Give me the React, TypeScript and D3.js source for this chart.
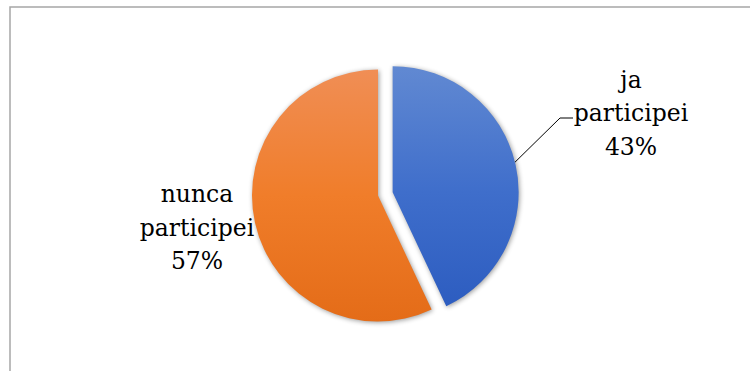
import React from "react";
import * as d3 from "d3";

const categories = ["ja participei", "nunca participei"];
const labelLines = [["ja", "participei"], ["nunca", "participei"]];
const values = [43, 57];
const percentLabels = ["43%", "57%"];

const W = 750;
const H = 371;
const CX = 378;
const CY = 195.5;
const R = 126;
const EXPLODE = 15;
const FS = 23.5;
const LH = 33.5;
const FONT = "DejaVu Serif";

export default function App() {
  const pie = d3.pie<number>().sort(null).startAngle(0).endAngle(2 * Math.PI);
  const arcs = pie(values);
  const arc = d3.arc<d3.PieArcDatum<number>>().innerRadius(0).outerRadius(R);

  const gradIds = ["gBlue", "gOrange"];
  const offsets = arcs.map((a, i) => {
    if (i !== 0) return [0, 0];
    const m = (a.startAngle + a.endAngle) / 2;
    return [EXPLODE * Math.sin(m), -EXPLODE * Math.cos(m)];
  });

  const labelPos = [
    { x: CX + 253, y: CY - 108 },
    { x: CX - 181, y: CY + 6.5 },
  ];

  const bo = offsets[0];
  const leaderAngle = 1.33;
  const lx0 = CX + bo[0] + R * Math.sin(leaderAngle);
  const ly0 = CY + bo[1] - R * Math.cos(leaderAngle);

  return (
    <svg
      width={W}
      height={H}
      style={{ position: "absolute", left: 0, top: 0, background: "#fff" }}
    >
      <defs>
        <linearGradient id="gBlue" gradientUnits="userSpaceOnUse" x1="0" y1={-R} x2="0" y2={R}>
          <stop offset="0" stopColor="#6189d2" />
          <stop offset="0.5" stopColor="#3f6ecb" />
          <stop offset="1" stopColor="#2b5bbf" />
        </linearGradient>
        <linearGradient id="gOrange" gradientUnits="userSpaceOnUse" x1="0" y1={-R} x2="0" y2={R}>
          <stop offset="0" stopColor="#f08e55" />
          <stop offset="0.5" stopColor="#f07d2a" />
          <stop offset="1" stopColor="#e46c18" />
        </linearGradient>
        <filter id="blur" x="-20%" y="-20%" width="140%" height="140%">
          <feGaussianBlur stdDeviation="2.5" />
        </filter>
      </defs>
      <path
        d={`M10,${H + 5} L10,7 L${W + 5},7`}
        fill="none"
        stroke="#a6a6a6"
        strokeWidth={1.5}
      />
      <g filter="url(#blur)" opacity={0.4}>
        {arcs.map((a, i) => (
          <path
            key={categories[i]}
            d={arc(a) || ""}
            transform={`translate(${CX + offsets[i][0] + 1},${CY + offsets[i][1] + 1})`}
            fill="#000"
          />
        ))}
      </g>
      {arcs.map((a, i) => (
        <path
          key={categories[i]}
          d={arc(a) || ""}
          transform={`translate(${CX + offsets[i][0]},${CY + offsets[i][1]})`}
          fill={`url(#${gradIds[i]})`}
        />
      ))}
      <polyline
        points={`${lx0},${ly0} ${560},${118} ${573},${118}`}
        fill="none"
        stroke="#000"
        strokeWidth={1}
      />
      {labelPos.map((p, i) => (
        <text
          key={categories[i]}
          x={p.x}
          y={p.y}
          textAnchor="middle"
          fontFamily={FONT}
          fontSize={FS}
          fill="#000"
        >
          {[...labelLines[i], percentLabels[i]].map((t, j) => (
            <tspan key={j} x={p.x} y={p.y + j * LH}>
              {t}
            </tspan>
          ))}
        </text>
      ))}
    </svg>
  );
}
